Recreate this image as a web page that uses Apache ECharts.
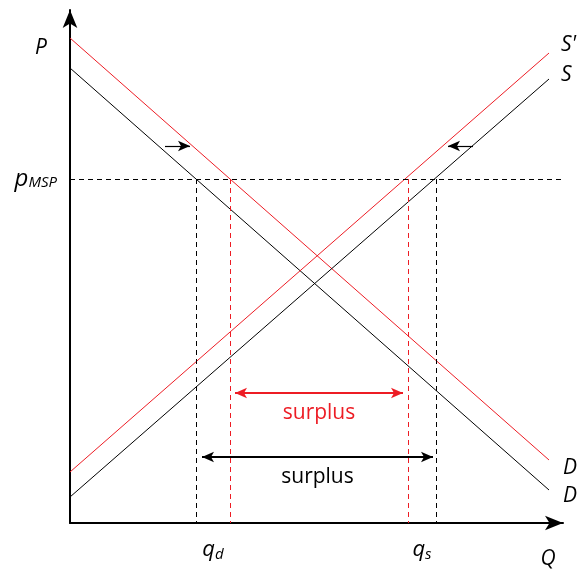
<!DOCTYPE html>
<html><head><meta charset="utf-8">
<script src="https://cdn.jsdelivr.net/npm/echarts@6/dist/echarts.min.js"></script>
<style>html,body{margin:0;padding:0;background:#fff}#c{width:577px;height:573px}</style>
</head><body><div id="c"></div>
<script>
// chart units (arbitrary, origin at the axes' corner)
const xMax = 493, yMax = 513;
const demand = [[0, 455], [479, 33]];
const demandShifted = [[0, 485], [479, 63]];
const supply = [[0, 26], [479, 444]];
const supplyShifted = [[0, 51], [479, 470]];
const curveNames = ['D', "D'", 'S', "S'"];
const pMSP = 344;
const qd = 126, qdShifted = 160, qsShifted = 338, qs = 366;
const shiftArrowY = 377;
const demandArrowX = [95, 120];
const supplyArrowX = [403, 378];
const redSurplus = {y: 130, x: [165, 333]};
const blackSurplus = {y: 66, x: [132, 363]};
const pLabelY = 475, qLabelX = 478;

const RED = '#ed1c24';
const FONT = 'Open Sans';

function curve(name, data, color, lblOffset, dist) {
  return {
    type: 'line', name, symbol: 'none', silent: true, clip: false,
    lineStyle: {color, width: 1},
    data,
    endLabel: {show: true, formatter: name, distance: dist, offset: lblOffset,
      fontFamily: FONT, fontStyle: 'italic', fontSize: 21, color: '#000'}
  };
}

const chart = echarts.init(document.getElementById('c'), null, {renderer: 'canvas'});
chart.setOption({
  animation: false,
  grid: {left: 70, top: 10, right: 14, bottom: 50, containLabel: false, outerBoundsMode: 'none'},
  xAxis: {
    type: 'value', min: 0, max: xMax,
    axisLine: {show: true, lineStyle: {color: '#000', width: 2}, symbol: ['none', 'arrow'], symbolSize: [11, 18]},
    axisTick: {show: false}, splitLine: {show: false},
    axisLabel: {
      customValues: [(qd + qdShifted) / 2, (qsShifted + qs) / 2, qLabelX],
      showMinLabel: true, showMaxLabel: true,
      margin: 14,
      formatter: v => v === qLabelX ? '{Q|Q}' : (v < 250 ? '{q|q}{sub|d}' : '{q|q}{sub|s}'),
      rich: {
        q: {fontFamily: FONT, fontStyle: 'italic', fontSize: 22, color: '#000'},
        sub: {fontFamily: FONT, fontStyle: 'italic', fontSize: 15, color: '#000', padding: [10, 0, 0, 0]},
        Q: {fontFamily: FONT, fontStyle: 'italic', fontSize: 21, color: '#000', padding: [12, 0, 0, 0]}
      }
    }
  },
  yAxis: {
    type: 'value', min: 0, max: yMax,
    axisLine: {show: true, lineStyle: {color: '#000', width: 2}, symbol: ['none', 'arrow'], symbolSize: [11, 18]},
    axisTick: {show: false}, splitLine: {show: false},
    axisLabel: {
      customValues: [pMSP, pLabelY],
      margin: 13,
      formatter: v => v === pLabelY ? '{P|P}' : '{p|p}{sub|MSP}',
      rich: {
        p: {fontFamily: FONT, fontStyle: 'italic', fontSize: 24, color: '#000'},
        sub: {fontFamily: FONT, fontStyle: 'italic', fontSize: 15, color: '#000', padding: [8, 0, 0, 0]},
        P: {fontFamily: FONT, fontStyle: 'italic', fontSize: 21, color: '#000', padding: [0, 10, 0, 0]}
      }
    }
  },
  series: [
    curve(curveNames[0], demand, '#000', [0, 6], 14),
    curve(curveNames[1], demandShifted, RED, [0, 8], 14),
    curve(curveNames[2], supply, '#000', [0, -4], 12),
    curve(curveNames[3], supplyShifted, RED, [0, -8], 12),
    {
      type: 'line', data: [], silent: true,
      markLine: {
        silent: true, symbol: 'none', animation: false,
        label: {show: false},
        data: [
          [{coord: [0, pMSP]}, {coord: [xMax, pMSP]}],
          [{coord: [qd, pMSP]}, {coord: [qd, 0]}],
          [{coord: [qs, pMSP]}, {coord: [qs, 0]}],
          [{coord: [qdShifted, pMSP], lineStyle: {color: RED}}, {coord: [qdShifted, 0]}],
          [{coord: [qsShifted, pMSP], lineStyle: {color: RED}}, {coord: [qsShifted, 0]}]
        ],
        lineStyle: {color: '#000', width: 1, type: [5, 4]}
      }
    },
    {
      type: 'line', data: [], silent: true,
      markLine: {
        silent: true, animation: false, symbol: ['none', 'arrow'], symbolSize: [8, 12],
        lineStyle: {color: '#000', width: 1.2, type: 'solid'},
        label: {show: false},
        data: [
          [{coord: [demandArrowX[0], shiftArrowY]}, {coord: [demandArrowX[1], shiftArrowY]}],
          [{coord: [supplyArrowX[0], shiftArrowY]}, {coord: [supplyArrowX[1], shiftArrowY]}]
        ]
      }
    },
    {
      type: 'line', data: [], silent: true,
      markLine: {
        silent: true, animation: false, symbol: ['arrow', 'arrow'], symbolSize: [8, 12],
        lineStyle: {type: 'solid', width: 2},
        data: [
          [{coord: [redSurplus.x[0], redSurplus.y], lineStyle: {color: RED, width: 2, type: 'solid'},
            label: {show: true, formatter: 'surplus', position: 'insideMiddleBottom', distance: 10, color: RED, fontFamily: FONT, fontSize: 21},
            itemStyle: {color: RED}},
           {coord: [redSurplus.x[1], redSurplus.y]}],
          [{coord: [blackSurplus.x[0], blackSurplus.y], lineStyle: {color: '#000', width: 2, type: 'solid'},
            label: {show: true, formatter: 'surplus', position: 'insideMiddleBottom', distance: 10, color: '#000', fontFamily: FONT, fontSize: 21}},
           {coord: [blackSurplus.x[1], blackSurplus.y]}]
        ]
      }
    }
  ]
});
</script></body></html>
